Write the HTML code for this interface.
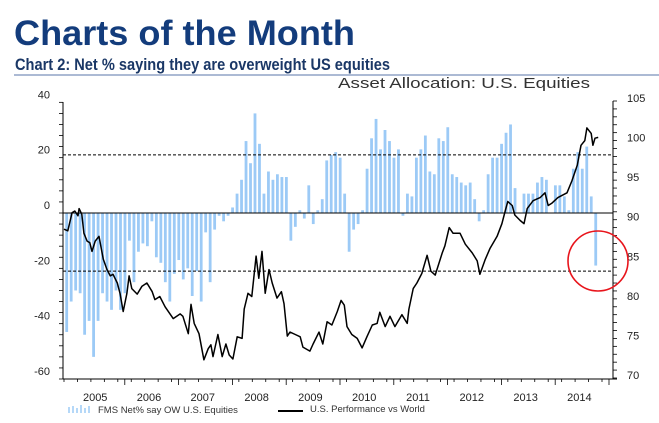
<!DOCTYPE html>
<html><head><meta charset="utf-8"><style>
html,body{margin:0;padding:0;background:#fff;}
svg{display:block;}
text{font-family:"Liberation Sans",Arial,sans-serif;}
</style></head><body>
<svg id="chart" width="659" height="423" viewBox="0 0 659 423" xmlns="http://www.w3.org/2000/svg">
<text x="14" y="45" font-size="35" font-weight="bold" fill="#133c7c" textLength="341" lengthAdjust="spacingAndGlyphs">Charts of the Month</text>
<text x="15" y="70" font-size="16.5" font-weight="bold" fill="#1a3766" textLength="375" lengthAdjust="spacingAndGlyphs">Chart 2: Net % saying they are overweight US equities</text>
<line x1="14" y1="75" x2="659" y2="75" stroke="#5a74a8" stroke-width="1"/>
<text x="338" y="88" font-size="15" fill="#333" textLength="252" lengthAdjust="spacingAndGlyphs">Asset Allocation: U.S. Equities</text>
<g id="plot"></g>
<g>
  <g>
    <line x1="69" y1="413" x2="69" y2="407" stroke="#9ccaf6" stroke-width="1.5"/>
    <line x1="73" y1="413" x2="73" y2="406" stroke="#9ccaf6" stroke-width="1.5"/>
    <line x1="77" y1="413" x2="77" y2="408" stroke="#9ccaf6" stroke-width="1.5"/>
    <line x1="81" y1="413" x2="81" y2="405" stroke="#9ccaf6" stroke-width="1.5"/>
    <line x1="85" y1="413" x2="85" y2="408" stroke="#9ccaf6" stroke-width="1.5"/>
    <line x1="89" y1="413" x2="89" y2="406" stroke="#9ccaf6" stroke-width="1.5"/>
    <text x="98" y="413" font-size="9.5" fill="#333">FMS Net% say OW U.S. Equities</text>
  </g>
  <g>
    <line x1="278" y1="411" x2="303" y2="411" stroke="#000" stroke-width="2"/>
    <text x="310" y="412" font-size="9.5" fill="#333">U.S. Performance vs World</text>
  </g>
</g>
</svg>
<script>
const barValues=[-43,-32,-28,-29,-44,-39,-52,-39,-29,-32,-35,-28,-35,-29,-10,-25,-14,-11,-12,-3,-16,-18,-25,-32,-22,-17,-24,-20,-30,-21,-32,-7,-25,-6,-1,-3,-1,2,7,12,26,18,36,25,7,15,12,14,13,13,-10,-5,1,-2,10,-4,1,5,19,21,
22,20,7,-14,-6,-4,1,16,27,34,23,30,26,20,23,-1,7,6,20,23,28,15,14,27,26,31,14,13,11,10,11,5,-3,1,14,20,20,25,29,32,9,0,7,7,7,11,13,12,0,10,10,6,1,16,22,16,24,6,-19];
const barStart=2004.92;
const lineDates=[2004.87,2004.94,2005.02,2005.07,2005.13,2005.15,2005.20,2005.24,2005.30,2005.35,2005.39,2005.45,2005.52,2005.60,2005.67,2005.73,2005.78,2005.86,2005.91,2005.97,2006.04,2006.08,2006.13,2006.23,2006.32,2006.41,2006.51,2006.56,2006.65,2006.75,2006.90,2007.03,2007.08,2007.18,2007.23,2007.29,2007.38,2007.47,2007.55,2007.60,2007.64,2007.73,2007.81,2007.88,2007.94,2008.01,2008.09,2008.18,2008.22,2008.29,2008.36,2008.44,2008.49,2008.55,2008.61,2008.68,2008.74,2008.83,2008.91,2008.96,2009.02,2009.07,2009.17,2009.26,2009.31,2009.44,2009.50,2009.61,2009.68,2009.76,2009.85,2009.95,2010.02,2010.08,2010.13,2010.22,2010.32,2010.41,2010.50,2010.60,2010.69,2010.74,2010.84,2010.93,2011.02,2011.15,2011.25,2011.28,2011.36,2011.43,2011.52,2011.62,2011.69,2011.77,2011.90,2011.95,2012.03,2012.10,2012.23,2012.33,2012.46,2012.55,2012.60,2012.70,2012.79,2012.92,2013.01,2013.07,2013.12,2013.20,2013.25,2013.35,2013.42,2013.48,2013.59,2013.72,2013.81,2013.87,2013.94,2014.05,2014.22,2014.31,2014.41,2014.48,2014.55,2014.59,2014.67,2014.70,2014.74,2014.80];
const lineValues=[88.8,88.6,90.9,91.1,90.5,91.4,90.7,88.3,87.3,87.1,86.0,87.3,87.9,85.0,83.7,82.9,83.1,82.0,80.7,78.4,80.7,82.9,81.3,80.6,81.6,82.0,80.9,79.9,80.3,79.0,77.5,78.1,77.8,75.6,79.3,76.9,75.6,72.3,73.7,74.2,72.7,75.5,72.7,74.3,72.9,72.4,75.2,75.0,78.7,80.7,80.3,85.4,82.6,86.0,80.7,83.7,82.0,80.1,80.9,79.4,75.3,75.8,75.5,75.2,73.9,73.4,74.3,75.8,74.3,77.1,76.7,78.4,79.8,79.2,76.5,75.5,75.0,73.8,75.2,76.7,76.9,78.3,76.5,77.8,76.5,78.0,76.9,78.7,81.3,82.0,83.2,85.5,83.5,83.0,85.8,86.7,89.0,88.3,88.3,86.9,85.8,84.8,83.1,85.0,86.4,87.9,89.5,91.1,92.3,91.8,90.6,89.9,89.5,91.4,92.4,92.8,93.4,91.8,92.1,92.8,93.4,94.9,96.9,99.4,100.0,101.6,100.9,99.4,100.3,100.4];
const leftTicks=[40,20,0,-20,-40,-60];
const rightTicks=[105,100,95,90,85,80,75,70];
const yearLabels=[2005,2006,2007,2008,2009,2010,2011,2012,2013,2014];
const refLevels=[21,-21];

const NS="http://www.w3.org/2000/svg";
const plot=document.getElementById('plot');
const X0=63,X1=613,YT=102,YB=379;
function xs(t){return 64+(t-2004.87)*53.8;}
function yl(v){return 213-v*(YB-213)/60;}
function yr(v){return 101+(105-v)*(378-101)/35;}
function mk(tag,attrs,parent){const e=document.createElementNS(NS,tag);for(const k in attrs)e.setAttribute(k,attrs[k]);(parent||plot).appendChild(e);return e;}

// bars
barValues.forEach((v,i)=>{
  const x=xs(barStart+i/12);
  const y0=yl(0),y1=yl(v);
  const r=mk('rect',{x:x-1.4,y:Math.min(y0,y1),width:2.8,height:Math.abs(y1-y0),fill:'#9ccaf6'});
  
  
});
// reference dashed lines
refLevels.forEach(v=>{
  const l=mk('line',{x1:X0,x2:X1,y1:yl(v),y2:yl(v),stroke:'#000','stroke-width':1,'stroke-dasharray':'3,2'});
  
  
});
// zero line
const z=mk('line',{x1:X0,x2:X1,y1:yl(0),y2:yl(0),stroke:'#000','stroke-width':1});


// performance line
let d='';
lineDates.forEach((t,i)=>{d+=(i?'L':'M')+xs(t).toFixed(1)+' '+yr(lineValues[i]).toFixed(1);});
const pl=mk('path',{d:d,fill:'none',stroke:'#000','stroke-width':1.5,'stroke-linejoin':'round'});


// axes
const la=mk('line',{x1:X0,x2:X0,y1:YT,y2:YB,stroke:'#000','stroke-width':1});


const ra=mk('line',{x1:X1,x2:X1,y1:101,y2:YB,stroke:'#000','stroke-width':1});


const ba=mk('line',{x1:X0,x2:X1+4,y1:YB,y2:YB,stroke:'#000','stroke-width':1});


// left minor ticks every 4
for(let v=40;v>=-60;v-=4){mk('line',{x1:X0-4,x2:X0,y1:yl(v),y2:yl(v),stroke:'#000','stroke-width':0.8});}
leftTicks.forEach(v=>{
  const t=mk('text',{x:50,y:yl(v)-4,'font-size':11,'text-anchor':'end',fill:'#222'});
  t.textContent=v;
  
  
});
for(let v=105;v>=70;v-=1){mk('line',{x1:X1,x2:X1+4,y1:yr(v),y2:yr(v),stroke:'#000','stroke-width':0.8});}
rightTicks.forEach(v=>{
  const t=mk('text',{x:627,y:yr(v)+1,'font-size':11,fill:'#222'});
  t.textContent=v;
  
  
});
// x ticks (quarterly minor, yearly major)
for(let q=0;q<=41;q++){const t=2004.87+q*0.25;const x=xs(t);if(x>X1)break;mk('line',{x1:x,x2:x,y1:YB,y2:YB+3,stroke:'#000','stroke-width':0.8});}
yearLabels.forEach(yv=>{
  const x=xs(yv+0.45);
  mk('line',{x1:xs(yv+1),x2:xs(yv+1),y1:YB,y2:YB+6,stroke:'#000','stroke-width':0.8});
  const t=mk('text',{x:x,y:401,'font-size':11,'text-anchor':'middle',fill:'#222'});
  t.textContent=yv;
  
  
});
// red highlight circle
const c=mk('circle',{cx:598,cy:261,r:30,fill:'none',stroke:'#e8141b','stroke-width':1.6});


</script>
</body></html>
